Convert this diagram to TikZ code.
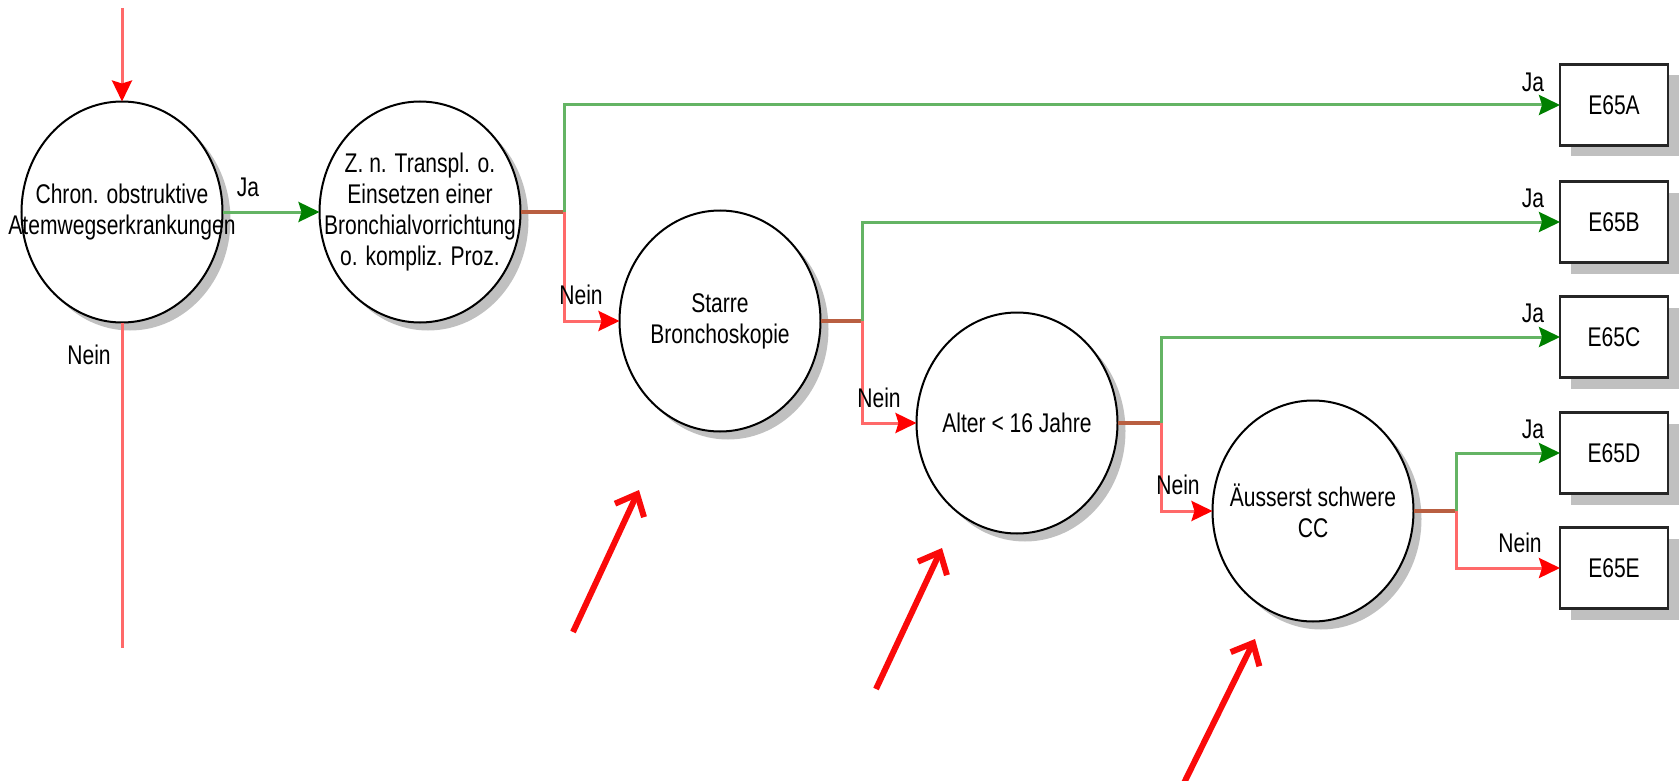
\documentclass[tikz,border=0pt]{standalone}
\usepackage{fontspec}
\newfontfamily\narrowsans[FakeStretch=0.78]{Liberation Sans}
\newcommand\dgfont{\narrowsans\fontsize{27}{31}\selectfont}
\usetikzlibrary{shapes.geometric,arrows.meta,shadows}
\definecolor{lgreen}{RGB}{100,180,100}
\definecolor{hgreen}{RGB}{0,128,0}
\definecolor{lred}{RGB}{255,105,105}
\definecolor{hred}{RGB}{255,0,0}
\definecolor{brn}{RGB}{185,95,65}
\definecolor{shd}{RGB}{192,192,192}
\definecolor{annred}{RGB}{250,10,10}
\begin{document}
\begin{tikzpicture}[x=1pt,y=-1pt,
  txt/.style={font=\dgfont, align=center, inner sep=0pt},
  dec/.style={ellipse, draw=black, line width=2pt, fill=white,
    minimum width=201pt, minimum height=221pt, inner sep=0pt, outer sep=0pt,
    drop shadow={shadow xshift=8pt, shadow yshift=-8pt, fill=shd, opacity=1}},
  res/.style={rectangle, draw=black!85, line width=2.5pt, fill=white, font=\dgfont,
    minimum width=108pt, minimum height=81pt, inner sep=0pt, outer sep=0pt,
    drop shadow={shadow xshift=11pt, shadow yshift=-11pt, fill=shd, opacity=1}},
  gl/.style={draw=lgreen, line width=3pt},
  rl/.style={draw=lred, line width=3pt},
  bl/.style={draw=brn, line width=3.5pt},
  gtip/.style={-{Stealth[length=21pt,width=20pt,inset=3pt,color=hgreen]}},
  rtip/.style={-{Stealth[length=21pt,width=20pt,inset=3pt,color=hred]}},
  annot/.style={draw=annred, line width=6pt, -{Straight Barb[length=18pt,width=32pt]}}
]
\useasboundingbox (0,0) rectangle (1679,781);

% decision nodes
\node[dec, label={[txt]center:{Chron. obstruktive\\Atemwegserkrankungen}}] (c1) at (122,212) {};
\node[dec, label={[txt]center:{Z. n. Transpl. o.\\Einsetzen einer\\Bronchialvorrichtung\\o. kompliz. Proz.}}] (c2) at (420,212) {};
\node[dec, label={[txt]center:{Starre\\Bronchoskopie}}] (c3) at (720,321) {};
\node[dec, label={[txt]center:{Alter < 16 Jahre}}] (c4) at (1017,423) {};
\node[dec, label={[txt]center:{Äusserst schwere\\CC}}] (c5) at (1313,511) {};

% result boxes
\node[res] (A) at (1614,105) {E65A};
\node[res] (B) at (1614,222) {E65B};
\node[res] (C) at (1614,337) {E65C};
\node[res] (D) at (1614,453) {E65D};
\node[res] (E) at (1614,568) {E65E};

% coordinates
\coordinate (top) at (122,8);
\coordinate (bot) at (122,648);
\coordinate (b1) at (564,212);
\coordinate (b2) at (862,321);
\coordinate (b3) at (1161,423);
\coordinate (b4) at (1456,511);

% connectors
\draw[rl, rtip] (top) -- (c1.north);
\draw[rl] (c1.south) -- (bot);
\draw[gl, gtip] (c1.east) -- (c2.west);

\draw[bl] (c2.east) -- (b1);
\draw[gl, gtip] (b1) |- (A.west);
\draw[rl, rtip] (b1) |- (c3.west);

\draw[bl] (c3.east) -- (b2);
\draw[gl, gtip] (b2) |- (B.west);
\draw[rl, rtip] (b2) |- (c4.west);

\draw[bl] (c4.east) -- (b3);
\draw[gl, gtip] (b3) |- (C.west);
\draw[rl, rtip] (b3) |- (c5.west);

\draw[bl] (c5.east) -- (b4);
\draw[gl, gtip] (b4) |- (D.west);
\draw[rl, rtip] (b4) |- (E.west);

% labels
\node[txt] (ja0) at (248,187) {Ja};
\node[txt] (nein0) at (89,355) {Nein};
\node[txt] (nein1) at (581,295) {Nein};
\node[txt] (nein2) at (879,398) {Nein};
\node[txt] (nein3) at (1178,485) {Nein};
\node[txt] (jaA) at (1533,82) {Ja};
\node[txt] (jaB) at (1533,198) {Ja};
\node[txt] (jaC) at (1533,313) {Ja};
\node[txt] (jaD) at (1533,429) {Ja};
\node[txt] (neinE) at (1520,543) {Nein};

% annotation arrows
\coordinate (p1s) at (573,632);
\coordinate (p1e) at (639,490);
\coordinate (p2s) at (876,689);
\coordinate (p2e) at (942,548);
\coordinate (p3s) at (1183,785);
\coordinate (p3e) at (1255,639);
\draw[annot] (p1s) -- (p1e);
\draw[annot] (p2s) -- (p2e);
\draw[annot] (p3s) -- (p3e);
\end{tikzpicture}
\end{document}
